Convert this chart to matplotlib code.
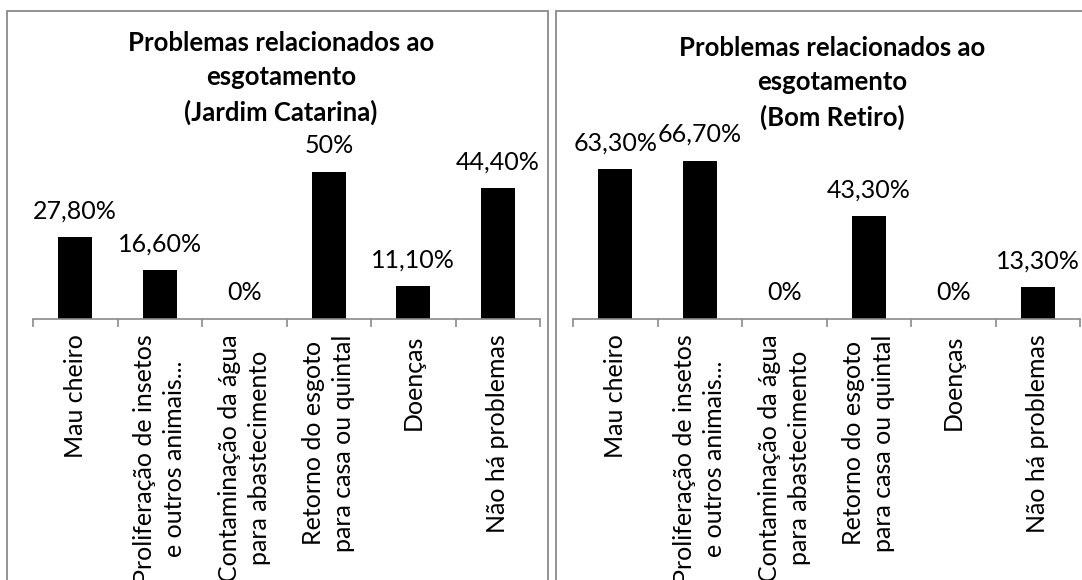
import matplotlib
matplotlib.use("Agg")
import matplotlib.pyplot as plt
from matplotlib.patches import Rectangle

# Survey results: share of households reporting each sewage-related problem
categories = [
    "Mau cheiro",
    "Proliferação de insetos\ne outros animais...",
    "Contaminação da água\npara abastecimento",
    "Retorno do esgoto\npara casa ou quintal",
    "Doenças",
    "Não há problemas",
]
jardim_catarina = [27.8, 16.6, 0, 50, 11.1, 44.4]
bom_retiro = [63.3, 66.7, 0, 43.3, 0, 13.3]

title_jc = "Problemas relacionados ao\nesgotamento\n(Jardim Catarina)"
title_br = "Problemas relacionados ao\nesgotamento\n(Bom Retiro)"

FONT = "Lato"
W, H = 1082, 580
GRAY = "#8a8a8a"

fig = plt.figure(figsize=(W / 100, H / 100), dpi=100)
fig.patch.set_facecolor("white")


def px(x0, y_top, w, h):
    """Convert a pixel box (top-left origin) to figure fractions."""
    return [x0 / W, (H - y_top - h) / H, w / W, h / H]


def fmt(v):
    if float(v).is_integer():
        return f"{int(v)}%"
    return f"{v:.2f}".replace(".", ",") + "%"


def panel(rect, values, ymax):
    ax = fig.add_axes(rect)
    xs = range(len(values))
    ax.bar(xs, values, width=0.4, color="black")
    ax.set_xlim(-0.5, len(values) - 0.5)
    ax.set_ylim(0, ymax)
    for s in ("top", "right", "left"):
        ax.spines[s].set_visible(False)
    ax.spines["bottom"].set_color(GRAY)
    ax.spines["bottom"].set_linewidth(1.2)
    ax.set_yticks([])
    # boundary tick marks between categories
    ax.set_xticks([i - 0.5 for i in range(len(values) + 1)])
    ax.set_xticklabels([])
    ax.tick_params(axis="x", which="major", length=6, width=1.2, color=GRAY,
                   direction="out")
    # category names as minor tick labels
    ax.set_xticks(list(xs), minor=True)
    ax.set_xticklabels(categories, minor=True, rotation=90, ha="center",
                       va="top", multialignment="center", linespacing=1.36,
                       fontsize=18, fontfamily=FONT)
    ax.tick_params(axis="x", which="minor", length=0, pad=11)
    for x, v in zip(xs, values):
        ax.annotate(fmt(v), xy=(x, v), xytext=(0, 19), textcoords="offset points",
                    ha="center", va="center", fontsize=18, fontfamily=FONT)
    return ax


panel(px(33, 319 - 176.4, 507, 176.4), jardim_catarina, 60)
panel(px(573, 319 - 189.6, 507, 189.6), bom_retiro, 80)

fig.text(281 / W, 1 - 78 / H, title_jc, ha="center", va="center",
         fontsize=18.5, fontweight="bold", fontfamily=FONT, linespacing=1.5)
fig.text(832 / W, 1 - 83 / H, title_br, ha="center", va="center",
         fontsize=18.5, fontweight="bold", fontfamily=FONT, linespacing=1.5)

# chart-area borders
for x0, x1 in ((7, 548), (556, 1110)):
    fig.add_artist(Rectangle((x0 / W, -0.1), (x1 - x0) / W, (H - 11) / H + 0.1,
                             transform=fig.transFigure, fill=False,
                             edgecolor=GRAY, linewidth=1.3, clip_on=False))

fig.savefig("out.png", dpi=100, facecolor="white")
